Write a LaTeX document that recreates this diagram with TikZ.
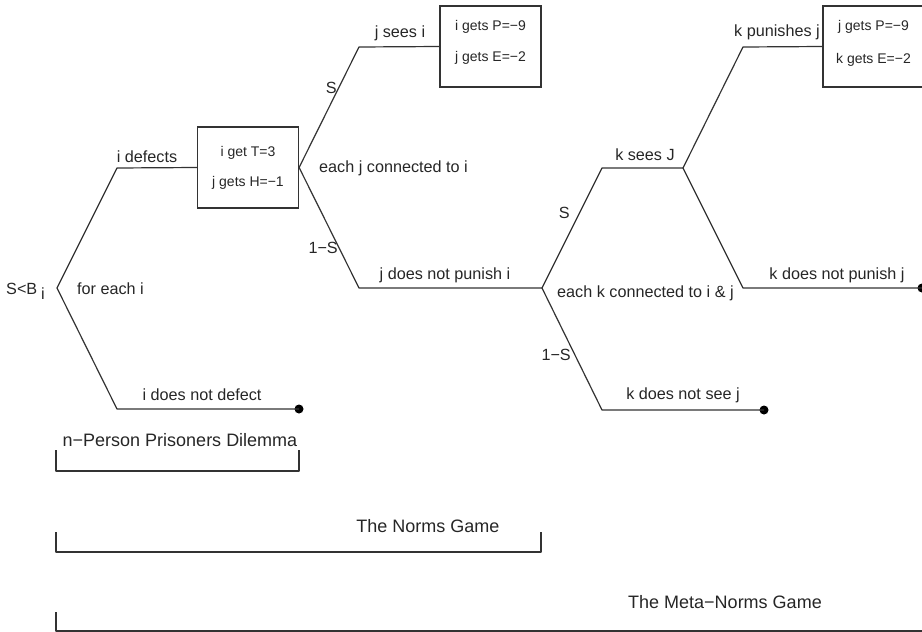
\documentclass[tikz,border=0pt]{standalone}
\usepackage{fontspec}
\setmainfont{Liberation Sans}
\begin{document}
\begin{tikzpicture}[x=1pt,y=-1pt,
  edge/.style={line width=1.2pt, draw=black!80, line join=round},
  lbl/.style={inner sep=0pt, font=\fontsize{16.2}{19}\selectfont, text=black!85},
  big/.style={inner sep=0pt, font=\fontsize{18}{21}\selectfont, text=black!85},
  small/.style={inner sep=0pt, font=\fontsize{14}{17}\selectfont, text=black!85},
  payoff/.style={draw=black!80, line width=1.2pt, minimum width=101pt, minimum height=81pt, inner sep=0pt},
  enddot/.style={circle, fill=black, inner sep=0pt, minimum size=9pt}]
\useasboundingbox (0,0) rectangle (922,632);

% vertices
\coordinate (v1) at (57,288);
\coordinate (a1) at (117,168);
\coordinate (b1) at (117,409);
\node[enddot] (d1) at (299,409) {};
\node[payoff] (box1) at (248,167.5) {};
\coordinate (v2) at (box1.east);
\coordinate (a2) at (359,47);
\coordinate (b2) at (359,288);
\node[payoff] (box2) at (490.5,46.5) {};
\coordinate (v3) at (542,288);
\coordinate (a3) at (602,168);
\coordinate (b3) at (602,410);
\node[enddot] (d3) at (764,410) {};
\coordinate (v4) at (683,168);
\coordinate (a4) at (743,47);
\coordinate (b4) at (743,288);
\node[payoff] (box3) at (873.5,46.5) {};
\node[enddot] (d4) at (922,288) {};

% edges
\draw[edge] (box1.west) -- (a1) -- (v1) -- (b1) -- (d1.center);
\draw[edge] (box2.west) -- (a2) -- (v2) -- (b2) -- (v3);
\draw[edge] (v4) -- (a3) -- (v3) -- (b3) -- (d3.center);
\draw[edge] (box3.west) -- (a4) -- (v4) -- (b4) -- (d4.center);

% box texts
\node[small] (t11) at (248,153) {i get T=3};
\node[small] (t12) at (248,183) {j gets H=−1};
\node[small] (t21) at (490.5,27) {i gets P=−9};
\node[small] (t22) at (490.5,58) {j gets E=−2};
\node[small] (t31) at (873.5,27) {j gets P=−9};
\node[small] (t32) at (873.5,60) {k gets E=−2};

% labels
\node[lbl, anchor=west] (sb) at (6,289) {S<B};
\node[lbl] (sbi) at (43,294) {i};
\node[lbl, anchor=west] (fei) at (77,289) {for each i};
\node[lbl] (idef) at (147,157) {i defects};
\node[lbl] (indef) at (202,395) {i does not defect};
\node[lbl] (jsees) at (400,33) {j sees i};
\node[lbl, anchor=east] (s1) at (337,88) {S};
\node[lbl, anchor=west] (ejc) at (319,168) {each j connected to i};
\node[lbl, anchor=east] (oms1) at (338,248) {1−S};
\node[lbl] (jdnp) at (445,275) {j does not punish i};
\node[lbl] (ksees) at (645,155) {k sees J};
\node[lbl, anchor=east] (s2) at (570,213) {S};
\node[lbl, anchor=west] (ekc) at (557,293) {each k connected to i \& j};
\node[lbl, anchor=east] (oms2) at (571,355) {1−S};
\node[lbl] (kdns) at (683,395) {k does not see j};
\node[lbl] (kpun) at (777,32) {k punishes j};
\node[lbl] (kdnp) at (837,275) {k does not punish j};

% brackets
\node[big] (g1) at (180,440) {n−Person Prisoners Dilemma};
\draw[edge] (56,450) -- (56,471) -- (299,471) -- (299,450);
\node[big] (g2) at (428,526) {The Norms Game};
\draw[edge] (56,532) -- (56,552) -- (541,552) -- (541,532);
\node[big] (g3) at (725,602) {The Meta−Norms Game};
\draw[edge] (56,612) -- (56,631) -- (930,631);
\end{tikzpicture}
\end{document}
